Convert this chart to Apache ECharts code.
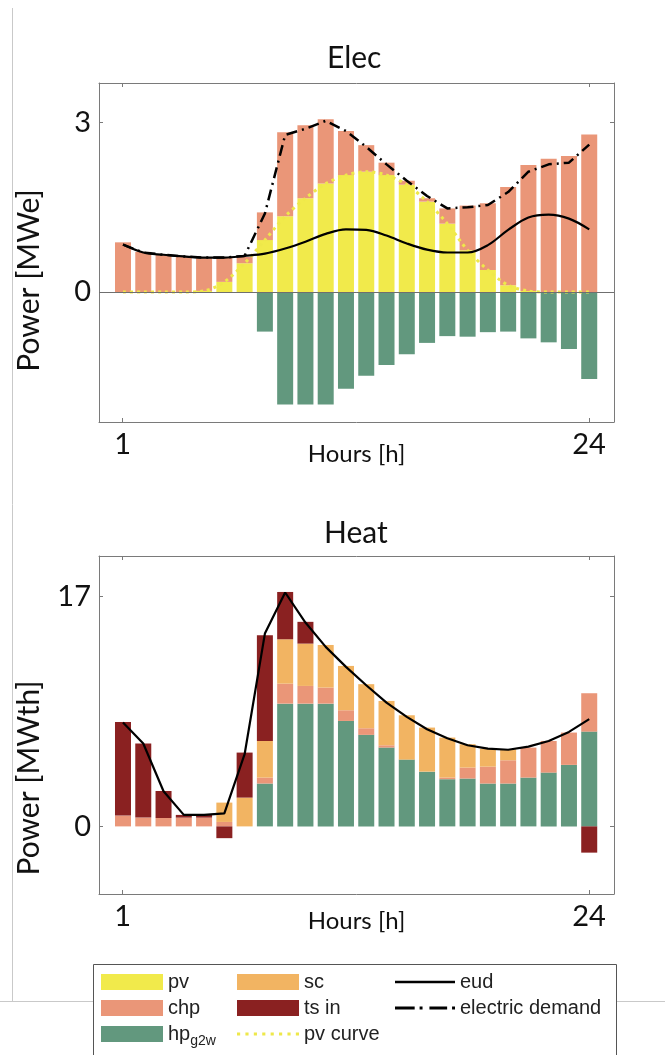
<!DOCTYPE html>
<html>
<head>
<meta charset="utf-8">
<script src="https://cdn.jsdelivr.net/npm/echarts@6.0.0/dist/echarts.min.js"></script>
<style>
  html, body { margin: 0; padding: 0; background: #fff; }
  #chart { width: 665px; height: 1055px; }
</style>
</head>
<body>
<div id="chart"></div>
<script>
// hours of the day
const hours = ['1', '2', '3', '4', '5', '6', '7', '8', '9', '10', '11', '12', '13', '14', '15', '16', '17', '18', '19', '20', '21', '22', '23', '24']

// Elec [MWe]
const pvElec = [0, 0, 0, 0, 0.02, 0.18, 0.51, 0.92, 1.34, 1.66, 1.92, 2.07, 2.13, 2.07, 1.90, 1.60, 1.21, 0.74, 0.39, 0.12, 0.02, 0, 0, 0]
const chpElec = [0.88, 0.71, 0.67, 0.62, 0.58, 0.43, 0.11, 0.49, 1.49, 1.29, 1.14, 0.78, 0.47, 0.22, 0.07, 0.06, 0.27, 0.79, 1.18, 1.74, 2.23, 2.36, 2.41, 2.79]
const hpElec = [0, 0, 0, 0, 0, 0, 0, -0.70, -1.99, -1.99, -1.99, -1.71, -1.48, -1.29, -1.10, -0.90, -0.78, -0.79, -0.71, -0.70, -0.82, -0.89, -1.01, -1.54]
const eud = [0.84, 0.70, 0.66, 0.63, 0.61, 0.61, 0.64, 0.68, 0.77, 0.89, 1.03, 1.11, 1.10, 1.00, 0.86, 0.75, 0.70, 0.70, 0.83, 1.10, 1.32, 1.37, 1.30, 1.11]
const elecDemand = [0.84, 0.70, 0.66, 0.63, 0.61, 0.61, 0.64, 1.39, 2.78, 2.89, 3.03, 2.85, 2.57, 2.26, 1.97, 1.70, 1.48, 1.50, 1.54, 1.77, 2.13, 2.26, 2.29, 2.61]

// Heat [MWth]
const hpHeat = [0, 0, 0, 0, 0, 0, 0, 3.17, 9.08, 9.08, 9.08, 7.80, 6.77, 5.83, 4.94, 4.05, 3.49, 3.54, 3.17, 3.17, 3.61, 3.98, 4.55, 7.01]
const chpHeat = [0.80, 0.65, 0.62, 0.65, 0.65, 0.33, 0, 0.44, 1.48, 1.31, 1.19, 0.79, 0.49, 0.17, 0, 0, 0.12, 0.81, 1.25, 1.72, 2.22, 2.34, 2.39, 2.84]
const scHeat = [0, 0, 0, 0, 0, 1.43, 2.13, 2.71, 3.28, 3.13, 3.15, 3.28, 3.26, 3.28, 3.28, 3.26, 2.96, 1.73, 1.33, 0.81, 0, 0, 0, 0]
const tsHeat = [6.93, 5.48, 2.00, 0.20, 0.20, -0.87, 3.33, 7.82, 3.50, 1.61, 0, 0, 0, 0, 0, 0, 0, 0, 0, 0, 0, 0, 0, -1.94]
const heatDemand = [7.68, 6.13, 2.60, 0.85, 0.85, 0.97, 5.34, 14.26, 17.30, 15.08, 13.28, 11.80, 10.44, 9.16, 8.10, 7.19, 6.52, 6.00, 5.75, 5.67, 5.90, 6.32, 6.99, 7.93]

// tick labels
const xTicks = [1, 24]
const elecTicks = [0, 3]
const heatTicks = [0, 17]

const colors = {
  pv: '#f1ea4b',
  chp: '#ea9678',
  hp: '#62987e',
  sc: '#f2b462',
  ts: '#8a2121'
}
const axisFont = 'Lato'
const axisGray = '#7a7a7a'
const elecRange = [-2.3, 3.7]
const heatRange = [-5, 20]

// legend icons drawn as line shapes
const solidIcon = 'path://M0,0h60v2.4h-60z'
const dashDotIcon = 'path://M0,0h20v3h-20z M25,0h3v3h-3z M35,0h18v3h-18z M58,0h3v3h-3z'
let dots = ''
for (let x = 0; x < 60; x += 8) dots += 'M' + x + ',0h3v3h-3z '
const dotIcon = 'path://' + dots

// hidden axes carrying the data (bars centred on the hours)
function dataX(gridIndex) {
  return { type: 'category', gridIndex: gridIndex, data: hours, show: false, boundaryGap: true }
}
function dataY(gridIndex, range) {
  return { type: 'value', gridIndex: gridIndex, min: range[0], max: range[1], show: false }
}

// visible frame axes (box, ticks, labels)
function frameX(gridIndex, position, name, gap) {
  return {
    type: 'value',
    gridIndex: gridIndex,
    position: position,
    min: -0.17,
    max: 25.23,
    name: name,
    nameLocation: 'middle',
    nameGap: gap,
    nameMoveOverlap: false,
    nameTextStyle: { fontFamily: axisFont, fontSize: 24, color: '#111' },
    axisLine: { show: true, onZero: false, lineStyle: { color: axisGray } },
    axisTick: { show: true, inside: true, length: 4, customValues: xTicks, lineStyle: { color: axisGray } },
    axisLabel: { show: position === 'bottom', customValues: xTicks, margin: 8, fontFamily: axisFont, fontSize: 29, color: '#111' },
    splitLine: { show: false }
  }
}
function frameY(gridIndex, position, range, ticks, name, pad) {
  return {
    type: 'value',
    gridIndex: gridIndex,
    position: position,
    min: range[0],
    max: range[1],
    name: name,
    nameLocation: 'middle',
    nameGap: 55,
    nameMoveOverlap: false,
    nameTextStyle: { fontFamily: axisFont, fontSize: 30, color: '#111', padding: pad },
    axisLine: { show: true, onZero: false, lineStyle: { color: axisGray } },
    axisTick: { show: true, inside: true, length: 4, customValues: ticks, lineStyle: { color: axisGray } },
    axisLabel: { show: position === 'left', customValues: ticks, margin: 8, fontFamily: axisFont, fontSize: 29, color: '#111' },
    splitLine: { show: false }
  }
}

function bar(name, values, color, idx, stack) {
  return {
    name: name,
    type: 'bar',
    xAxisIndex: idx,
    yAxisIndex: idx,
    stack: stack,
    barWidth: 16,
    itemStyle: { color: color },
    data: values
  }
}

function line(name, values, idx, lineStyle, smooth, z) {
  return {
    name: name,
    type: 'line',
    xAxisIndex: idx,
    yAxisIndex: idx,
    symbol: 'none',
    smooth: smooth,
    z: z,
    lineStyle: lineStyle,
    itemStyle: { color: lineStyle.color },
    data: values
  }
}

// zero reference line across the whole frame
function zeroLine(idx) {
  return {
    type: 'line',
    xAxisIndex: idx,
    yAxisIndex: idx,
    data: [],
    silent: true,
    markLine: {
      silent: true,
      symbol: 'none',
      label: { show: false },
      lineStyle: { color: '#6f6f6f', width: 1, type: 'solid' },
      data: [{ yAxis: 0 }]
    }
  }
}

const legendText = { fontFamily: 'Liberation Sans', fontSize: 20, color: '#222' }

const chart = echarts.init(document.getElementById('chart'))
chart.setOption({
  animation: false,
  title: [
    { text: 'Elec', left: 322, top: 38, textStyle: { fontFamily: axisFont, fontSize: 30, fontWeight: 'normal', color: '#111' } },
    { text: 'Heat', left: 319, top: 513, textStyle: { fontFamily: axisFont, fontSize: 30, fontWeight: 'normal', color: '#111' } }
  ],
  grid: [
    { left: 112.86, top: 83, width: 486.5, height: 339 },
    { left: 112.86, top: 556, width: 486.5, height: 338 },
    { left: 99, top: 83, width: 515, height: 339 },
    { left: 99, top: 556, width: 515, height: 338 }
  ],
  xAxis: [
    dataX(0),
    dataX(1),
    frameX(2, 'bottom', 'Hours [h]', 20),
    frameX(2, 'top', '', 0),
    frameX(3, 'bottom', 'Hours [h]', 15),
    frameX(3, 'top', '', 0)
  ],
  yAxis: [
    dataY(0, elecRange),
    dataY(1, heatRange),
    frameY(2, 'left', elecRange, elecTicks, 'Power [MWe]', [0, 56, 0, 0]),
    frameY(2, 'right', elecRange, elecTicks, '', 0),
    frameY(3, 'left', heatRange, heatTicks, 'Power [MWth]', [0, 106, 0, 0]),
    frameY(3, 'right', heatRange, heatTicks, '', 0)
  ],
  legend: [
    {
      orient: 'vertical', left: 96, top: 967, height: 120, itemWidth: 62, itemHeight: 16, itemGap: 6,
      data: [{ name: 'pv', icon: 'rect' }, { name: 'chp', icon: 'rect' }, { name: 'hp_g2w', icon: 'rect' }],
      formatter: name => name === 'hp_g2w' ? '{a|hp}{s|g2w}' : name,
      textStyle: Object.assign({}, legendText, {
        rich: { a: legendText, s: Object.assign({}, legendText, { fontSize: 14, padding: [14, 0, 0, 0] }) }
      })
    },
    {
      orient: 'vertical', left: 232, top: 967, height: 120, itemWidth: 62, itemHeight: 16, itemGap: 6,
      data: [{ name: 'sc', icon: 'rect' }, { name: 'ts in', icon: 'rect' }, { name: 'pv curve', icon: dotIcon }],
      textStyle: legendText
    },
    {
      orient: 'vertical', left: 390, top: 967, height: 120, itemWidth: 60, itemHeight: 16, itemGap: 6,
      data: [{ name: 'eud', icon: solidIcon }, { name: 'electric demand', icon: dashDotIcon }],
      textStyle: legendText
    }
  ],
  graphic: [
    { type: 'line', shape: { x1: 12.5, y1: 8, x2: 12.5, y2: 1001 }, style: { stroke: '#c9c9c9', lineWidth: 1 } },
    { type: 'line', shape: { x1: 0, y1: 1001.5, x2: 665, y2: 1001.5 }, style: { stroke: '#c9c9c9', lineWidth: 1 } },
    { type: 'rect', shape: { x: 93.5, y: 964.5, width: 523, height: 100 }, style: { fill: '#fff', stroke: '#555', lineWidth: 1 } }
  ],
  series: [
    zeroLine(2),
    zeroLine(3),
    // Elec
    bar('pv', pvElec, colors.pv, 0, 'e'),
    bar('chp', chpElec, colors.chp, 0, 'e'),
    bar('hp_g2w', hpElec, colors.hp, 0, 'e'),
    line('pv curve', pvElec, 0, { color: '#eee84a', width: 3, type: [3, 4] }, 0.3, 3),
    line('electric demand', elecDemand, 0, { color: '#000', width: 2.5, type: [11, 5, 2, 5] }, false, 4),
    line('eud', eud, 0, { color: '#000', width: 2.2 }, 0.35, 5),
    // Heat
    bar('hp_g2w', hpHeat, colors.hp, 1, 'h'),
    bar('chp', chpHeat, colors.chp, 1, 'h'),
    bar('sc', scHeat, colors.sc, 1, 'h'),
    bar('ts in', tsHeat, colors.ts, 1, 'h'),
    line('heat demand', heatDemand, 1, { color: '#000', width: 2.2 }, false, 5)
  ]
})
</script>
</body>
</html>
